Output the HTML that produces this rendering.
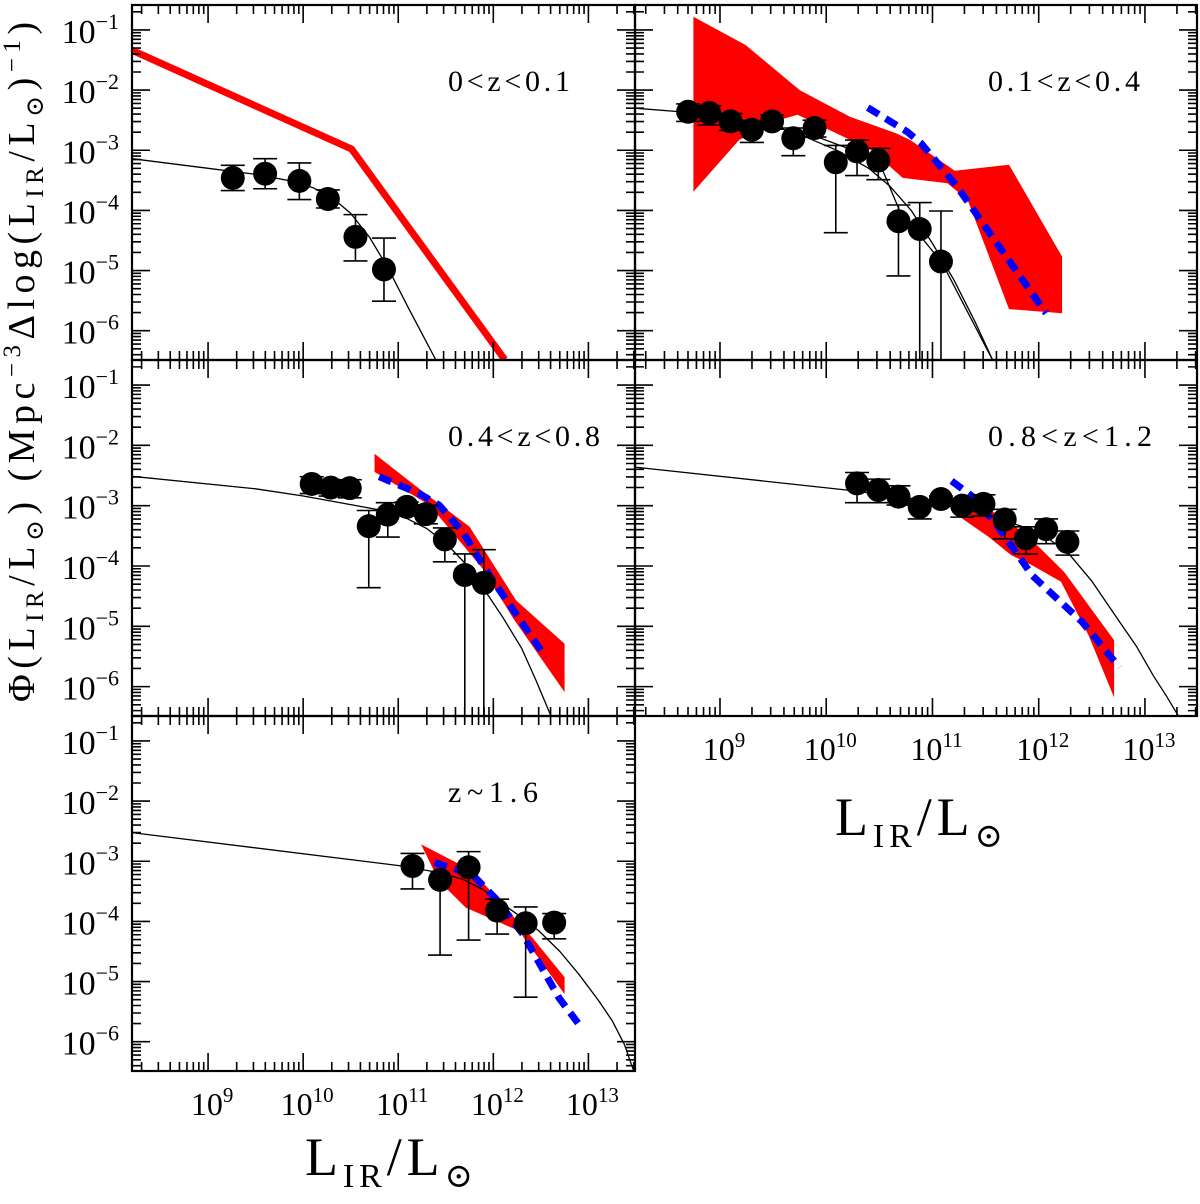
<!DOCTYPE html>
<html><head><meta charset="utf-8"><style>
html,body{margin:0;padding:0;background:#fff;}
svg{display:block;font-family:"Liberation Serif","DejaVu Serif",serif;}
</style></head><body>
<svg id="chart" width="1200" height="1204" viewBox="0 0 1200 1204" xmlns="http://www.w3.org/2000/svg">
<g id="content"></g>
<text transform="translate(34,362) rotate(-90)" text-anchor="middle" font-size="38" textLength="680" lengthAdjust="spacing">Φ(L<tspan font-size="25" dy="9">IR</tspan><tspan dy="-9">/L</tspan><tspan font-size="25" dy="9">⊙</tspan><tspan dy="-9">)  (Mpc</tspan><tspan font-size="25" dy="-14">−3</tspan><tspan dy="14">Δlog(L</tspan><tspan font-size="25" dy="9">IR</tspan><tspan dy="-9">/L</tspan><tspan font-size="25" dy="9">⊙</tspan><tspan dy="-9">)</tspan><tspan font-size="25" dy="-14">−1</tspan><tspan dy="14">)</tspan></text>
<text x="835" y="835" font-size="54" textLength="168" lengthAdjust="spacing">L<tspan font-size="34" dy="12">IR</tspan><tspan dy="-12">/L</tspan><tspan font-size="34" dy="12">⊙</tspan></text>
<text x="305" y="1175" font-size="54" textLength="168" lengthAdjust="spacing">L<tspan font-size="34" dy="12">IR</tspan><tspan dy="-12">/L</tspan><tspan font-size="34" dy="12">⊙</tspan></text>
</svg>
<script>
// ---- data (log10 L, log10 Phi) ----
const p1L=[9.26,9.60,9.96,10.26,10.55,10.85];
const p1Phi=[-3.46,-3.39,-3.51,-3.81,-4.44,-4.98];
const p1Hi=[-3.25,-3.14,-3.21,-3.66,-4.07,-4.46];
const p1Lo=[-3.67,-3.64,-3.82,-3.96,-4.84,-5.51];
const p1CurveL=[8.2,9.0,9.5,9.9,10.1,10.3,10.5,10.7,10.9,11.1,11.25,11.4];
const p1CurvePhi=[-3.14,-3.30,-3.40,-3.52,-3.62,-3.78,-4.05,-4.45,-4.98,-5.6,-6.05,-6.5];
const p1RedL=[8.19,10.51,12.12];
const p1RedPhi=[-1.33,-2.98,-6.48];

const p2L=[8.70,8.90,9.10,9.30,9.49,9.69,9.89,10.09,10.29,10.49,10.68,10.88,11.08];
const p2Phi=[-2.36,-2.38,-2.52,-2.66,-2.52,-2.80,-2.63,-3.20,-3.02,-3.17,-4.18,-4.31,-4.85];
const p2Hi=[-2.23,-2.26,-2.39,-2.52,-2.41,-2.63,-2.50,-2.92,-2.83,-2.97,-3.91,-3.87,-4.01];
const p2Lo=[-2.52,-2.58,-2.67,-2.87,-2.65,-3.09,-2.78,-4.37,-3.42,-3.49,-5.09,-7,-7];
const p2CurveL=[8.2,8.7,9.3,9.7,10.1,10.4,10.6,10.8,11.0,11.2,11.4,11.57];
const p2CurvePhi=[-2.30,-2.37,-2.52,-2.7,-3.0,-3.3,-3.6,-4.0,-4.55,-5.15,-5.85,-6.5];
const p2Curve2L=[9.68,10.49,10.69,11.09,11.57];
const p2Curve2Phi=[-2.62,-3.16,-4.0,-4.87,-6.5];
const p2BandL=[8.75,9.24,9.75,10.22,10.66,10.79,11.21,11.72,12.22,12.22,11.72,11.33,11.14,10.72,10.42,9.73,9.55,9.18,8.75];
const p2BandPhi=[-0.78,-1.25,-2.0,-2.44,-2.72,-2.83,-3.34,-3.24,-4.77,-5.71,-5.64,-3.82,-3.55,-3.46,-2.99,-2.41,-2.50,-2.83,-3.69];
const p2BlueL=[10.39,10.76,10.89,11.23,12.07];
const p2BluePhi=[-2.29,-2.69,-2.88,-3.60,-5.71];

const p3L=[10.09,10.29,10.49,10.69,10.89,11.09,11.29,11.49,11.70,11.90];
const p3Phi=[-2.64,-2.70,-2.71,-3.34,-3.15,-3.02,-3.14,-3.56,-4.15,-4.28];
const p3Hi=[-2.52,-2.58,-2.57,-3.08,-2.95,-2.94,-2.99,-3.37,-3.80,-3.73];
const p3Lo=[-2.80,-2.84,-2.87,-4.36,-3.52,-3.11,-3.30,-3.93,-7,-7];
const p3CurveL=[8.18,9.5,10.0,10.63,10.9,11.1,11.3,11.5,11.7,11.9,12.1,12.3,12.45,12.61];
const p3CurvePhi=[-2.51,-2.72,-2.84,-3.02,-3.10,-3.22,-3.38,-3.62,-3.95,-4.38,-4.85,-5.37,-5.9,-6.5];
const p3BandL=[10.75,11.22,11.75,12.24,12.75,12.75,12.21,11.89,11.33,10.75];
const p3BandPhi=[-2.14,-2.72,-3.35,-4.57,-5.29,-6.09,-4.87,-4.05,-2.99,-2.44];
const p3BlueL=[10.80,11.22,11.43,11.68,11.96,12.55];
const p3BluePhi=[-2.52,-2.80,-2.99,-3.44,-4.16,-5.51];

const p4L=[10.29,10.49,10.68,10.88,11.08,11.28,11.48,11.68,11.88,12.07,12.27];
const p4Phi=[-2.63,-2.74,-2.85,-3.02,-2.89,-3.00,-2.97,-3.23,-3.54,-3.39,-3.60];
const p4Hi=[-2.45,-2.56,-2.67,-2.96,-2.84,-2.95,-2.82,-3.06,-3.35,-3.22,-3.42];
const p4Lo=[-2.95,-2.95,-2.99,-3.22,-2.95,-3.19,-3.17,-3.55,-3.80,-3.63,-3.82];
const p4CurveL=[8.2,10.19,10.8,11.23,11.6,11.9,12.1,12.27,12.5,12.74,12.92,13.08,13.2,13.32];
const p4CurvePhi=[-2.36,-2.74,-2.88,-3.02,-3.2,-3.38,-3.56,-3.77,-4.25,-4.87,-5.33,-5.82,-6.15,-6.5];
const p4BandL=[11.26,11.57,11.77,12.0,12.24,12.71,12.71,12.47,12.21,11.94,11.74,11.53,11.26];
const p4BandPhi=[-3.10,-3.10,-3.33,-3.68,-4.10,-5.23,-6.18,-5.15,-4.26,-3.99,-3.82,-3.52,-3.19];
const p4BlueL=[11.18,11.40,11.63,11.94,12.41,12.76];
const p4BluePhi=[-2.59,-2.88,-3.38,-4.16,-4.93,-5.68];

const p5L=[11.15,11.44,11.74,12.04,12.34,12.64];
const p5Phi=[-3.08,-3.31,-3.10,-3.82,-4.03,-4.02];
const p5Hi=[-2.87,-3.31,-2.84,-3.63,-3.76,-3.87];
const p5Lo=[-3.46,-4.56,-4.31,-4.21,-5.26,-4.29];
const p5CurveL=[8.18,11.05,11.4,11.68,11.9,12.03,12.25,12.48,12.7,12.90,13.1,13.25,13.38,13.48];
const p5CurvePhi=[-2.52,-3.08,-3.18,-3.30,-3.48,-3.63,-3.88,-4.16,-4.5,-4.88,-5.3,-5.65,-6.05,-6.5];
const p5BandL=[11.24,11.78,12.03,12.41,12.75,12.75,12.27,11.71,11.43];
const p5BandPhi=[-2.72,-3.16,-3.60,-4.27,-4.93,-5.21,-4.16,-3.77,-3.33];
const p5BlueL=[11.38,11.78,12.03,12.31,12.69,12.90];
const p5BluePhi=[-3.02,-3.22,-3.63,-4.21,-5.27,-5.71];

const xTickExp=[9,10,11,12,13];
const yTickExp=[-1,-2,-3,-4,-5,-6];
const X_MIN=8.2, X_MAX=13.49, Y_MIN=-6.487, Y_MAX=-0.585;

const NS="http://www.w3.org/2000/svg";
const root=document.getElementById('content');
function mk(tag,attrs,parent){const e=document.createElementNS(NS,tag);for(const k in attrs)e.setAttribute(k,attrs[k]);(parent||root).appendChild(e);return e;}

const panels=[
 {name:'panel-z0-0.1',x0:132,x1:635,y0:5,y1:360,label:'0<z<0.1',lw:122,yl:true,xl:false,L:p1L,P:p1Phi,H:p1Hi,Lo:p1Lo,cur:[[p1CurveL,p1CurvePhi]],red:[p1RedL,p1RedPhi]},
 {name:'panel-z0.1-0.4',x0:635,x1:1197,y0:5,y1:360,label:'0.1<z<0.4',lw:152,yl:false,xl:false,L:p2L,P:p2Phi,H:p2Hi,Lo:p2Lo,cur:[[p2CurveL,p2CurvePhi],[p2Curve2L,p2Curve2Phi]],band:[p2BandL,p2BandPhi],blue:[p2BlueL,p2BluePhi]},
 {name:'panel-z0.4-0.8',x0:132,x1:635,y0:360,y1:716,label:'0.4<z<0.8',lw:152,yl:true,xl:false,L:p3L,P:p3Phi,H:p3Hi,Lo:p3Lo,cur:[[p3CurveL,p3CurvePhi]],band:[p3BandL,p3BandPhi],blue:[p3BlueL,p3BluePhi]},
 {name:'panel-z0.8-1.2',x0:635,x1:1197,y0:360,y1:716,label:'0.8<z<1.2',lw:164,yl:false,xl:true,L:p4L,P:p4Phi,H:p4Hi,Lo:p4Lo,cur:[[p4CurveL,p4CurvePhi]],band:[p4BandL,p4BandPhi],blue:[p4BlueL,p4BluePhi]},
 {name:'panel-z1.6',x0:132,x1:635,y0:716,y1:1071,label:'z~1.6',lw:90,yl:true,xl:true,L:p5L,P:p5Phi,H:p5Hi,Lo:p5Lo,cur:[[p5CurveL,p5CurvePhi]],band:[p5BandL,p5BandPhi],blue:[p5BlueL,p5BluePhi]}
];

panels.forEach((p,i)=>{
 const g=mk('g',{});
 
 
 const sx=v=>p.x0+(v-X_MIN)/(X_MAX-X_MIN)*(p.x1-p.x0);
 const sy=v=>p.y0+(Y_MAX-v)/(Y_MAX-Y_MIN)*(p.y1-p.y0);
 const cid='clip'+i;
 const cp=mk('clipPath',{id:cid},g);
 mk('rect',{x:p.x0,y:p.y0,width:p.x1-p.x0,height:p.y1-p.y0},cp);
 const d=mk('g',{'clip-path':'url(#'+cid+')'},g);
 const pts=(A,B)=>A.map((v,k)=>sx(v).toFixed(1)+','+sy(B[k]).toFixed(1)).join(' ');
 if(p.band){const b=mk('polygon',{points:pts(p.band[0],p.band[1]),fill:'#ff0000'},d);
  
  }
 if(p.red){const r=mk('polyline',{points:pts(p.red[0],p.red[1]),fill:'none',stroke:'#ff0000','stroke-width':7},d);
  
  }
 p.cur.forEach(c=>{const l=mk('polyline',{points:pts(c[0],c[1]),fill:'none',stroke:'#000','stroke-width':1.3,'stroke-linejoin':'round'},d);
  
  });
 if(p.blue){const b=mk('polyline',{points:pts(p.blue[0],p.blue[1]),fill:'none',stroke:'#0000ff','stroke-width':7,'stroke-dasharray':'13,8'},d);
  
  }
 p.L.forEach((v,k)=>{
  const x=sx(v);
  const e=mk('path',{d:`M${x-12},${sy(p.H[k])}H${x+12}M${x},${sy(p.H[k])}V${sy(p.Lo[k])}M${x-12},${sy(p.Lo[k])}H${x+12}`,stroke:'#000','stroke-width':1.6,fill:'none'},d);
  
  
  const c=mk('circle',{cx:x,cy:sy(p.P[k]),r:12,fill:'#000'},d);
  
  
 });
 let tk='';
 for(let e=8;e<=13;e++){for(let m=1;m<=9;m++){const v=e+Math.log10(m);if(v<X_MIN||v>X_MAX)continue;const len=m===1?18:9;const x=sx(v);tk+=`M${x},${p.y1}v${-len}M${x},${p.y0}v${len}`;}}
 for(let e=-7;e<=-1;e++){for(let m=1;m<=9;m++){const v=e+Math.log10(m);if(v<Y_MIN||v>Y_MAX)continue;const len=m===1?18:9;const y=sy(v);tk+=`M${p.x0},${y}h${len}M${p.x1},${y}h${-len}`;}}
 const t=mk('path',{d:tk,stroke:'#000','stroke-width':1.6,fill:'none'},g);
 
 
 const fr=mk('rect',{x:p.x0,y:p.y0,width:p.x1-p.x0,height:p.y1-p.y0,fill:'none',stroke:'#000','stroke-width':2.2},g);
 
 
 const lxo=(p.x1-p.x0)>520?353:316;
 const lab=mk('text',{x:p.x0+lxo,y:p.y0+86,'font-size':30,textLength:p.lw,lengthAdjust:'spacing'},g);
 lab.textContent=p.label;
 
 
 if(p.yl){yTickExp.forEach(e=>{
  const tx=mk('text',{x:119,y:sy(e)+13,'text-anchor':'end','font-size':34},g);
  tx.innerHTML='10<tspan font-size="22" dy="-14">−'+(-e)+'</tspan>';
  
  
 });}
 if(p.xl){xTickExp.forEach(e=>{
  const tx=mk('text',{x:sx(e)+4,y:p.y1+44,'text-anchor':'middle','font-size':32},g);
  tx.innerHTML='10<tspan font-size="21" dy="-13">'+e+'</tspan>';
  
  
 });}
});
</script>
</body></html>
